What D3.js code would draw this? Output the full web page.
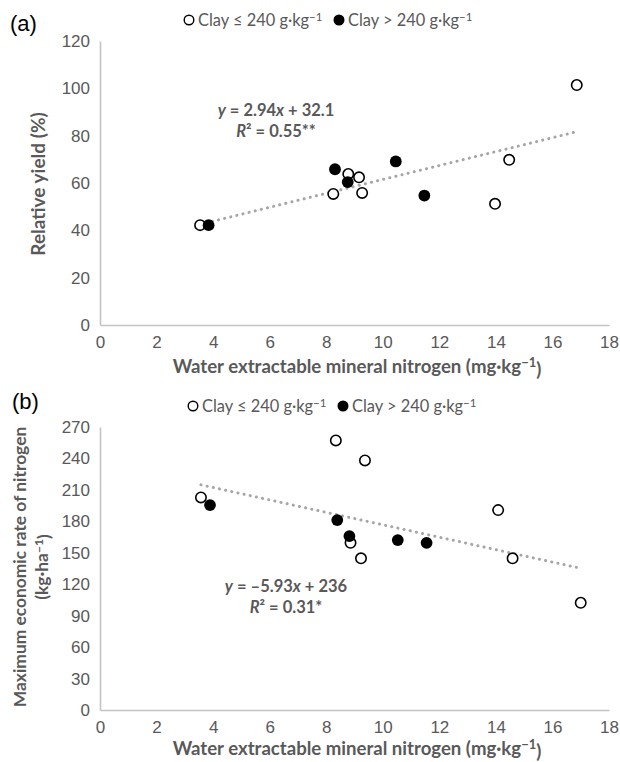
<!DOCTYPE html>
<html>
<head>
<meta charset="utf-8">
<script src="https://cdn.jsdelivr.net/npm/d3@7"></script>
<style>
  body { margin: 0; background: #fff; }
  svg { display: block; font-family: Lato, "Open Sans", sans-serif; }
</style>
</head>
<body>
<div id="container"></div>
<script>
let w = 620;
let h = 762;

// tick values
let xTicks = [0, 2, 4, 6, 8, 10, 12, 14, 16, 18];
let yTicksA = [0, 20, 40, 60, 80, 100, 120];
let yTicksB = [0, 30, 60, 90, 120, 150, 180, 210, 240, 270];

// panel (a): relative yield
let openXA = [3.54, 8.25, 8.78, 9.16, 9.27, 13.97, 14.47, 16.86];
let openYA = [42.2, 55.4, 63.8, 62.4, 55.8, 51.2, 69.8, 101.4];
let filledXA = [3.84, 8.31, 8.76, 10.46, 11.47];
let filledYA = [42.2, 65.8, 60.4, 69.1, 54.7];
let trendA = [2.94, 32.1]; // slope, intercept

// panel (b): maximum economic rate of nitrogen
let openXB = [3.57, 8.34, 8.86, 9.23, 9.37, 14.08, 14.59, 17.0];
let openYB = [202.8, 257.2, 159.5, 144.7, 238.1, 190.7, 144.7, 102.3];
let filledXB = [3.89, 8.39, 8.82, 10.53, 11.55];
let filledYB = [195.5, 181.2, 165.9, 162.1, 159.5];
let trendB = [-5.93, 236];

let legendLabels = ["Clay \u2264 240 g\u00b7kg", "Clay > 240 g\u00b7kg"];
let xTitle = "Water extractable mineral nitrogen (mg\u00b7kg";
let yTitleA = "Relative yield (%)";
let yTitleB = ["Maximum economic rate of nitrogen", "(kg\u00b7ha"];

let textGrey = "#595959";

let viz = d3.select("#container").append("svg")
    .attr("width", w)
    .attr("height", h);

// text with a "-1" superscript at the end, then maybe a closing bracket
function supText(sel, base, sup, after) {
  sel.append("tspan").text(base);
  sel.append("tspan").attr("dy", "-0.45em").style("font-size", "70%").text(sup);
  if (after) sel.append("tspan").attr("dy", "0.45em").text(after);
}

function drawPanel(p) {
  let g = viz.append("g");
  let xScale = d3.scaleLinear().domain([0, 18]).range([100, 609]);
  let yScale = d3.scaleLinear().domain(p.yDomain).range(p.yRange);

  // axes
  let xAxis = d3.axisBottom(xScale).tickValues(xTicks).tickSize(0).tickPadding(11);
  let xg = g.append("g").attr("transform", "translate(0," + p.yRange[0] + ")").call(xAxis);
  let yAxis = d3.axisLeft(yScale).tickValues(p.yTicks).tickSize(0).tickPadding(10);
  let yg = g.append("g").attr("transform", "translate(100,0)").call(yAxis);
  [xg, yg].forEach(a => {
    a.select(".domain").attr("stroke", "#c4c4c4").attr("stroke-width", 1.6);
    a.selectAll("text").attr("fill", textGrey).style("font-size", "17px");
  });

  // trend line over the data range
  let allX = p.openX.concat(p.filledX);
  let ext = d3.extent(allX);
  let line = d3.line().x(d => xScale(d)).y(d => yScale(p.trend[0] * d + p.trend[1]));
  g.append("path")
    .datum(ext)
    .attr("d", line)
    .attr("fill", "none")
    .attr("stroke", "#a6a6a6")
    .attr("stroke-width", 3)
    .attr("stroke-linecap", "round")
    .attr("stroke-dasharray", "0.1 6.2");

  // points
  g.selectAll(".open").data(p.openX.map((d, i) => [d, p.openY[i]]))
    .enter().append("circle")
    .attr("cx", d => xScale(d[0])).attr("cy", d => yScale(d[1]))
    .attr("r", 5.2).attr("fill", "#fff").attr("stroke", "#000").attr("stroke-width", 1.6);
  g.selectAll(".filled").data(p.filledX.map((d, i) => [d, p.filledY[i]]))
    .enter().append("circle")
    .attr("cx", d => xScale(d[0])).attr("cy", d => yScale(d[1]))
    .attr("r", 5.9).attr("fill", "#000");

  // legend
  let lg = g.append("g").attr("transform", "translate(0," + p.legendY + ")");
  legendLabels.forEach((lab, i) => {
    let x0 = p.legendX + i * 150;
    lg.append("circle").attr("cx", x0).attr("cy", 0).attr("r", 4.8)
      .attr("fill", i == 0 ? "#fff" : "#000").attr("stroke", "#000").attr("stroke-width", 1.4);
    let t = lg.append("text").attr("x", x0 + 9).attr("y", 5.8)
      .attr("fill", textGrey).style("font-size", "16.4px");
    supText(t, lab, "\u22121");
  });

  // panel letter
  g.append("text").attr("x", p.letterX).attr("y", p.letterY)
    .style("font-family", "'Liberation Sans', Arial, sans-serif").style("font-size", "22px")
    .attr("fill", "#000").text(p.letter);

  // x title
  let xt = g.append("text").attr("x", 357).attr("y", p.yRange[0] + p.titleGap)
    .attr("text-anchor", "middle").attr("fill", textGrey)
    .style("font-size", "18.6px").style("font-weight", "bold");
  supText(xt, xTitle, "\u22121", ")");

  // equation
  let eq = g.append("text").attr("x", p.eqX).attr("y", p.eqY)
    .attr("text-anchor", "middle").attr("fill", textGrey)
    .style("font-size", "16.5px").style("font-weight", "bold");
  eq.append("tspan").style("font-style", "italic").text("y");
  eq.append("tspan").text(p.eq[0]);
  eq.append("tspan").style("font-style", "italic").text("x");
  eq.append("tspan").text(p.eq[1]);
  let r2 = g.append("text").attr("x", p.eqX).attr("y", p.eqY + 21)
    .attr("text-anchor", "middle").attr("fill", textGrey)
    .style("font-size", "16.5px").style("font-weight", "bold");
  r2.append("tspan").style("font-style", "italic").text("R");
  r2.append("tspan").text("\u00b2 = " + p.r2);

  return g;
}

drawPanel({
  yDomain: [0, 120], yRange: [325, 41], yTicks: yTicksA,
  openX: openXA, openY: openYA, filledX: filledXA, filledY: filledYA, trend: trendA,
  legendX: 189, legendY: 20, letter: "(a)", letterX: 10, letterY: 31, titleGap: 48,
  eqX: 276, eqY: 116, eq: [" = 2.94", " + 32.1"], r2: "0.55**"
});

drawPanel({
  yDomain: [0, 270], yRange: [710, 427], yTicks: yTicksB,
  openX: openXB, openY: openYB, filledX: filledXB, filledY: filledYB, trend: trendB,
  legendX: 193, legendY: 406, letter: "(b)", letterX: 12, letterY: 409, titleGap: 45,
  eqX: 286, eqY: 592, eq: [" = \u20135.93", " + 236"], r2: "0.31*"
});

// y titles
viz.append("text")
  .attr("transform", "translate(44.5,184) rotate(-90)")
  .attr("text-anchor", "middle").attr("fill", textGrey)
  .style("font-size", "19px").style("font-weight", "bold")
  .text(yTitleA);

viz.append("text")
  .attr("transform", "translate(26,567) rotate(-90)")
  .attr("text-anchor", "middle").attr("fill", textGrey)
  .style("font-size", "17.4px").style("font-weight", "bold")
  .text(yTitleB[0]);
let yb2 = viz.append("text")
  .attr("transform", "translate(48,567) rotate(-90)")
  .attr("text-anchor", "middle").attr("fill", textGrey)
  .style("font-size", "17.4px").style("font-weight", "bold");
supText(yb2, yTitleB[1], "\u22121", ")");
</script>
</body>
</html>
